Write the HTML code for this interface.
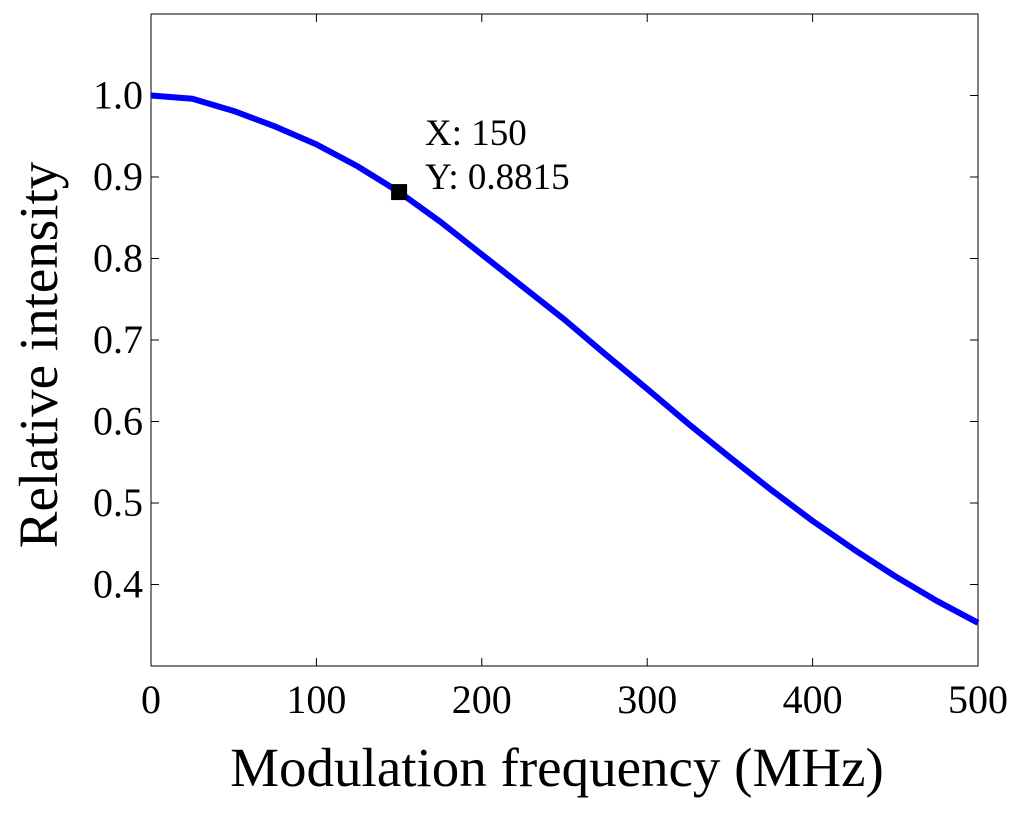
<!DOCTYPE html>
<html><head><meta charset="utf-8"><style>
body{margin:0;background:#fff;}
svg text{font-family:"Liberation Serif",serif;fill:#000;}
</style></head><body>
<svg id="chart" width="1024" height="810" xmlns="http://www.w3.org/2000/svg">
<rect x="0" y="0" width="1024" height="810" fill="#fff"/>
<g id="axes"></g>
</svg>
<script>
const xs=[0,25,50,75,100,125,150,175,200,225,250,275,300,325,350,375,400,425,450,475,500];
const ys=[1.0,0.996,0.981,0.962,0.94,0.913,0.8815,0.845,0.805,0.765,0.725,0.682,0.64,0.597,0.556,0.516,0.478,0.443,0.41,0.38,0.353];
const xTicks=[0,100,200,300,400,500];
const yTicks=[0.4,0.5,0.6,0.7,0.8,0.9,1.0];
const yTickLabels=["0.4","0.5","0.6","0.7","0.8","0.9","1.0"];
const tipX=150, tipY=0.8815;
const L=151,R=978,T=14,B=666;
const X=v=>L+(v-0)/(500-0)*(R-L);
const Y=v=>B-(v-0.3)/(1.1-0.3)*(B-T);
const ns="http://www.w3.org/2000/svg";
const g=document.getElementById('axes');
function mk(t,a,p){const e=document.createElementNS(ns,t);for(const k in a)e.setAttribute(k,a[k]);(p||g).appendChild(e);return e;}
const box=mk('rect',{x:L,y:T,width:R-L,height:B-T,fill:'none',stroke:'#000','stroke-width':1});


xTicks.forEach(v=>{
 mk('line',{x1:X(v),x2:X(v),y1:B,y2:B-8,stroke:'#000'});
 mk('line',{x1:X(v),x2:X(v),y1:T,y2:T+8,stroke:'#000'});
 const t=mk('text',{x:X(v),y:B+47,'font-size':40,'text-anchor':'middle'});t.textContent=v;
 
 
});
yTicks.forEach((v,i)=>{
 mk('line',{x1:L,x2:L+8,y1:Y(v),y2:Y(v),stroke:'#000'});
 mk('line',{x1:R,x2:R-8,y1:Y(v),y2:Y(v),stroke:'#000'});
 const t=mk('text',{x:L-8,y:Y(v)+13,'font-size':40,'text-anchor':'end'});t.textContent=yTickLabels[i];
 
 
});
const line=mk('polyline',{points:xs.map((x,i)=>X(x)+','+Y(ys[i])).join(' '),fill:'none',stroke:'#0000ff','stroke-width':6,'stroke-linejoin':'round'});


const m=mk('rect',{x:X(tipX)-8,y:Y(tipY)-8,width:16,height:16,fill:'#000'});


const t1=mk('text',{x:425,y:145,'font-size':37});t1.textContent='X: '+tipX;


const t2=mk('text',{x:425,y:189,'font-size':37});t2.textContent='Y: '+tipY;


const xt=mk('text',{x:557,y:786,'font-size':55,'text-anchor':'middle'});xt.textContent='Modulation frequency (MHz)';


const yt=mk('text',{x:0,y:0,'font-size':55,'text-anchor':'middle',transform:'translate(57,355) rotate(-90)'});yt.textContent='Relative intensity';


</script>
</body></html>
